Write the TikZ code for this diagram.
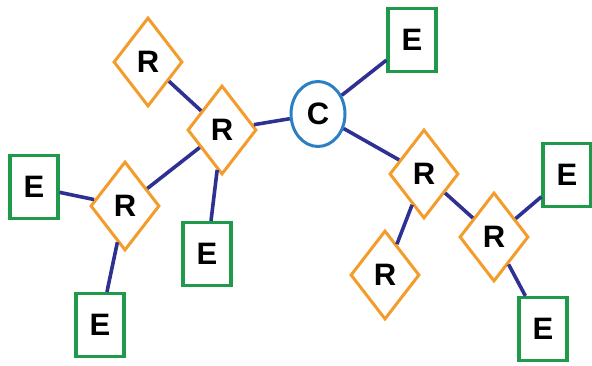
\documentclass[tikz,border=0pt]{standalone}
\usepackage{fontspec}
\setmainfont{Liberation Sans}
\usepackage{tikz}
\usetikzlibrary{positioning,shapes.geometric}
\usepackage{xcolor}
\definecolor{relorange}{HTML}{F39C2B}
\definecolor{entgreen}{HTML}{1E9A4A}
\definecolor{clsblue}{HTML}{2A80C2}
\definecolor{linkblue}{HTML}{2E3192}

\begin{document}
\begin{tikzpicture}[%
    -,
    on grid,
    font=\fontsize{31}{33}\selectfont\bfseries,
    every edge/.style={draw=linkblue,line width=3.6pt},
    relnode/.style={%
      diamond,
      draw=relorange,
      line width=3pt,
      inner sep=0pt,
      minimum width=69pt,
      minimum height=89pt
    },
    entnode/.style={%
      rectangle,
      draw=entgreen,
      line width=3.2pt,
      inner sep=0pt,
      minimum width=48pt,
      minimum height=63pt
    },
    clsnode/.style={%
      ellipse,
      draw=clsblue,
      line width=3pt,
      inner sep=0pt,
      minimum width=54pt,
      minimum height=65pt
    }
  ]
    \useasboundingbox (0,0) rectangle (592pt,365pt);
    \node[clsnode] (c) at (318pt,251pt)                     {C};
    \node[entnode] (et) [above right=74pt and 94pt of c]    {E};
    \node[relnode] (rm) [below left=16pt and 96pt of c]     {R};
    \node[relnode] (rt) [above left=68pt and 74pt of rm]    {R};
    \node[relnode] (rl) [below left=76pt and 97pt of rm]    {R};
    \node[entnode] (el) [above left=19pt and 91pt of rl]    {E};
    \node[entnode] (eb) [below left=119pt and 25pt of rl]   {E};
    \node[entnode] (em) [below left=124pt and 15pt of rm]   {E};
    \node[relnode] (rr) [below right=60pt and 106pt of c]   {R};
    \node[relnode] (rd) [below left=101pt and 39pt of rr]   {R};
    \node[relnode] (rf) [below right=63pt and 70pt of rr]   {R};
    \node[entnode] (er) [above right=62pt and 73pt of rf]   {E};
    \node[entnode] (ed) [below right=92pt and 49pt of rf]   {E};

    \path (c) edge (et)
          (c) edge (rm)
          (rm) edge (rt)
          (rm) edge (rl)
          (rm) edge (em)
          (rl) edge (el)
          (rl) edge (eb)
          (c) edge (rr)
          (rr) edge (rd)
          (rr) edge (rf)
          (rf) edge (er)
          (rf) edge (ed)
          ;
  \end{tikzpicture}
\end{document}
